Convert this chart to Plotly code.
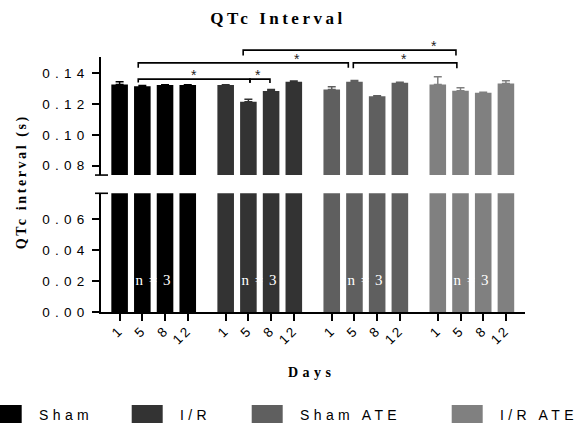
import json
import plotly.graph_objects as go

# ---------------- data ----------------
days = ["1", "5", "8", "12"]
groups = ["Sham", "I/R", "Sham ATE", "I/R ATE"]
colors = ["#000000", "#333333", "#5f5f5f", "#808080"]

sham = [0.1328, 0.1317, 0.1324, 0.1324]
ir = [0.1324, 0.1215, 0.1285, 0.1345]
sham_ate = [0.1296, 0.1345, 0.1252, 0.1339]
ir_ate = [0.1328, 0.1287, 0.1274, 0.1335]

sham_err = [0.0017, 0.0004, 0.0003, 0.0003]
ir_err = [0.0003, 0.0016, 0.0011, 0.0005]
sham_ate_err = [0.0017, 0.0009, 0.0003, 0.0003]
ir_ate_err = [0.0050, 0.0019, 0.0003, 0.0017]

n_label = "n = 3"
upper_ticks = [0.08, 0.10, 0.12, 0.14]
lower_ticks = [0.00, 0.02, 0.04, 0.06]

# significance brackets: (group_a, day_a, group_b, day_b)
brackets = [(0, 1, 1, 1), (1, 1, 1, 2), (0, 1, 2, 1), (2, 1, 3, 1), (1, 1, 3, 1)]

values = [sham, ir, sham_ate, ir_ate]
errors = [sham_err, ir_err, sham_ate_err, ir_ate_err]

# ---------------- geometry ----------------
W, H = 585, 423
ML, MR, MT, MB = 101, 60, 57, 111
PW, PH = W - ML - MR, H - MT - MB
GROUP_GAP = 0.67
BAR_W = 0.73
XR = [-0.82, 17.85]
YR_U = [0.0738, 0.1507]
YR_L = [0.0, 0.0769]
YDOM_U = [0.537, 1.0]
YDOM_L = [0.0, 0.4655]


def pos(g, i):
    return g * (len(days) + GROUP_GAP) + i


def xp(v):
    return (v - XR[0]) / (XR[1] - XR[0])


def yp_u(v):
    return YDOM_U[0] + (v - YR_U[0]) / (YR_U[1] - YR_U[0]) * (YDOM_U[1] - YDOM_U[0])


def px_x(px):
    return (px - ML) / PW


def px_y(py):
    return (H - MB - py) / PH


fig = go.Figure()
for g, name in enumerate(groups):
    xs = [pos(g, i) for i in range(len(days))]
    fig.add_trace(go.Bar(
        x=xs, y=values[g], name=name, width=BAR_W, xaxis="x", yaxis="y",
        marker=dict(color=colors[g], line=dict(width=0)),
        error_y=dict(type="data", array=errors[g], arrayminus=[0] * len(days),
                     symmetric=False, color=colors[g], thickness=1.5, width=4),
        showlegend=False, hoverinfo="skip"))
    fig.add_trace(go.Bar(
        x=xs, y=values[g], name=name, width=BAR_W, xaxis="x", yaxis="y2",
        marker=dict(color=colors[g], line=dict(width=0)),
        showlegend=False, hoverinfo="skip"))

all_pos = [pos(g, i) for g in range(len(groups)) for i in range(len(days))]
tick_font = dict(family="Liberation Sans, Arial, sans-serif", size=13.5, color="#000")
axis_common = dict(showline=True, linecolor="#000", linewidth=1.7, ticks="outside",
                   ticklen=7, tickwidth=1.5, tickcolor="#000", showgrid=False,
                   zeroline=False, tickfont=tick_font, automargin=False)

fig.update_layout(
    template="none",
    width=W, height=H, margin=dict(l=ML, r=MR, t=MT, b=MB, autoexpand=False),
    paper_bgcolor="white", plot_bgcolor="white", barmode="overlay",
    title=dict(text="QTc Interval", x=278 / W, xref="container", xanchor="center",
               y=1 - 18 / H, yref="container", yanchor="middle",
               font=dict(family="Liberation Serif, Times New Roman, serif", size=17,
                         color="#000", weight="bold")),
    xaxis=dict(domain=[0, 1], anchor="y2", range=XR, tickvals=all_pos,
               ticktext=days * len(groups), tickangle=-45, ticklabelstandoff=-4,
               **axis_common),
    yaxis=dict(domain=YDOM_U, anchor="x", range=YR_U, tickvals=upper_ticks,
               tickformat=".2f", **axis_common),
    yaxis2=dict(domain=YDOM_L, anchor="x", range=YR_L, tickvals=lower_ticks,
                tickformat=".2f", **axis_common),
)

shapes = []
# axis break marks
shapes.append(dict(type="line", xref="paper", yref="y domain", x0=px_x(95), x1=px_x(108),
                   y0=0, y1=0, line=dict(color="#000", width=1.6)))
shapes.append(dict(type="line", xref="paper", yref="y2 domain", x0=px_x(95), x1=px_x(108),
                   y0=1, y1=1, line=dict(color="#000", width=1.6)))

# brackets: level in upper-axis data units, end offsets, star fraction
bracket_level = [0.1363, 0.1363, 0.1469, 0.1469, 0.1552]
bracket_drop = [0.0022, 0.0025, 0.0032, 0.0035, 0.0035]
bracket_off = [(-0.18, 0.07), (0.07, -0.05), (-0.18, -0.27), (-0.05, -0.16), (-0.23, -0.2)]
star_frac = [0.5, 0.4, 0.757, 0.49, 0.898]
annotations = []
for k, (ga, da, gb, db) in enumerate(brackets):
    x0 = xp(pos(ga, da) + bracket_off[k][0])
    x1 = xp(pos(gb, db) + bracket_off[k][1])
    yl = yp_u(bracket_level[k])
    yd = yp_u(bracket_level[k] - bracket_drop[k])
    shapes.append(dict(type="path", xref="paper", yref="paper",
                       path=f"M {x0},{yd} L {x0},{yl} L {x1},{yl} L {x1},{yd}",
                       line=dict(color="#000", width=1.6)))
    annotations.append(dict(text="*", xref="paper", yref="paper",
                            x=x0 + (x1 - x0) * star_frac[k], y=yl,
                            xanchor="center", yanchor="middle", yshift=4, showarrow=False,
                            font=dict(family="Liberation Sans, Arial, sans-serif", size=14,
                                      color="#222")))

# n = 3 labels
for g in range(len(groups)):
    annotations.append(dict(text=n_label, xref="x", yref="y2",
                            x=(pos(g, 1) + pos(g, 2)) / 2, y=0.021,
                            xanchor="center", yanchor="middle", showarrow=False,
                            font=dict(family="Liberation Serif, Times New Roman, serif",
                                      size=15, color="white")))

serif_bold = dict(family="Liberation Serif, Times New Roman, serif", color="#000",
                  weight="bold")
annotations.append(dict(text="QTc interval (s)", xref="paper", yref="paper",
                        x=px_x(21), y=px_y(181.5), textangle=-90, showarrow=False,
                        xanchor="center", yanchor="middle", font=dict(size=14, **serif_bold)))
annotations.append(dict(text="Days", xref="paper", yref="paper",
                        x=px_x(311.7), y=px_y(372), showarrow=False,
                        xanchor="center", yanchor="middle", font=dict(size=14, **serif_bold)))

# legend (drawn manually to match the large swatches)
swatch_left = [-9.3, 131.7, 251.7, 451.7]
for g, name in enumerate(groups):
    shapes.append(dict(type="rect", xref="paper", yref="paper",
                       x0=px_x(swatch_left[g]), x1=px_x(swatch_left[g] + 31),
                       y0=px_y(405), y1=px_y(430),
                       fillcolor=colors[g], line=dict(width=0)))
    annotations.append(dict(text=name, xref="paper", yref="paper",
                            x=px_x(swatch_left[g] + 31 + 15.5), y=px_y(414.5),
                            xanchor="left", yanchor="middle", align="left", showarrow=False,
                            font=dict(family="Liberation Sans, Arial, sans-serif", size=14,
                                      color="#000")))

fig.update_layout(shapes=shapes, annotations=annotations)

spacing = {"QTc interval (s)": "2.6px", "Days": "4.5px", n_label: "1px"}
for name in groups:
    spacing[name] = "4.4px"

post_script = """
document.body.style.margin = '0';
document.body.style.padding = '0';
var gd = document.getElementById('{plot_id}');
var SP = %s;
function applySpacing(){
  gd.querySelectorAll('.ytick text, .y2tick text').forEach(function(t){ t.style.letterSpacing = '5.2px'; });
  gd.querySelectorAll('.xtick text').forEach(function(t){ t.style.letterSpacing = '2.5px'; });
  gd.querySelectorAll('.gtitle').forEach(function(t){ t.style.letterSpacing = '3.5px'; });
  gd.querySelectorAll('.annotation-text').forEach(function(t){
    var s = SP[t.textContent]; if (s) { t.style.letterSpacing = s; }
  });
}
applySpacing();
""" % json.dumps(spacing)

fig.write_html("out.html", post_script=post_script, config={"displayModeBar": False})
